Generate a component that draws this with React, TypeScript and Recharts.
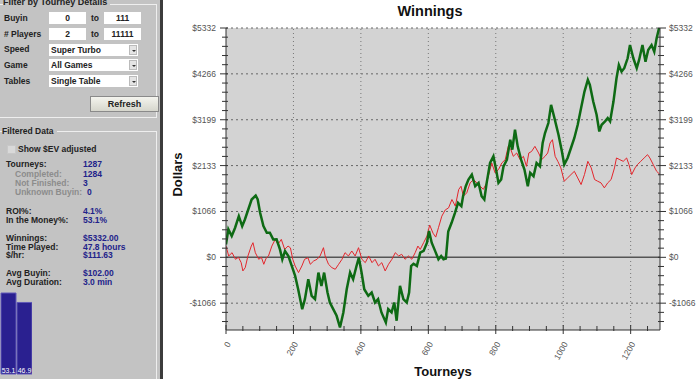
import { LineChart, Line, XAxis, YAxis, ReferenceLine, CartesianGrid, BarChart, Bar, LabelList } from 'recharts';

// cumulative winnings, real
const greenT = [0, 7, 17, 27, 38, 48, 56, 66, 76, 88, 94, 101, 111, 121, 130, 140, 150, 160, 167, 175, 185, 195, 205, 214, 226, 234, 244, 254, 264, 274, 283, 291, 301, 308, 318, 328, 338, 348, 358, 368, 377, 387, 394, 402, 410, 422, 432, 442, 451, 461, 474, 481, 491, 499, 506, 516, 526, 536, 543, 549, 556, 566, 576, 586, 596, 602, 610, 620, 630, 638, 645, 652, 659, 669, 679, 688, 698, 703, 711, 719, 729, 739, 749, 758, 766, 773, 783, 793, 801, 808, 816, 823, 833, 843, 849, 857, 865, 875, 885, 895, 902, 912, 921, 931, 939, 946, 956, 964, 974, 986, 996, 1003, 1013, 1023, 1033, 1043, 1053, 1063, 1073, 1079, 1089, 1099, 1107, 1114, 1124, 1132, 1139, 1149, 1158, 1165, 1173, 1181, 1191, 1198, 1208, 1218, 1225, 1235, 1244, 1252, 1262, 1270, 1277, 1284, 1287];
const greenV = [300, 650, 494, 688, 957, 725, 880, 1112, 1344, 1437, 1344, 1042, 725, 571, 571, 417, 420, 185, -46, 147, 31, -201, -433, -742, -1205, -973, -510, -896, -973, -355, -665, -355, -819, -1050, -1205, -1360, -1630, -1282, -742, -355, -510, -201, -8, -355, -742, -896, -819, -1050, -973, -1282, -1514, -1205, -1282, -1050, -1475, -665, -973, -1050, -819, -201, -150, -200, 108, 150, 340, 610, 340, 150, -46, 31, -46, -30, 600, 803, 1035, 1267, 1190, 1421, 1653, 1808, 1924, 1653, 1731, 1421, 1344, 1731, 2195, 2348, 2039, 1731, 1808, 2116, 2271, 2735, 2503, 2966, 2580, 2271, 2039, 1653, 1963, 1885, 2195, 2116, 2658, 2890, 3122, 3546, 3237, 2851, 2464, 2155, 2310, 2542, 2774, 3082, 3469, 3854, 4125, 4009, 3622, 3314, 2927, 3082, 3160, 3237, 3160, 3622, 4164, 4473, 4318, 4396, 4628, 4936, 4628, 4400, 4589, 4936, 4549, 4820, 4936, 4781, 5091, 5323, 5332];

// $EV adjusted
const redT = [0, 8, 18, 28, 37, 45, 50, 57, 65, 75, 80, 87, 97, 105, 112, 119, 126, 136, 146, 154, 164, 174, 184, 191, 198, 205, 215, 225, 233, 243, 250, 260, 270, 279, 289, 294, 304, 314, 324, 334, 344, 353, 363, 373, 383, 393, 403, 413, 423, 433, 442, 452, 462, 472, 482, 492, 502, 512, 521, 531, 541, 551, 561, 569, 576, 586, 596, 604, 614, 622, 630, 640, 650, 660, 670, 680, 690, 697, 704, 714, 724, 734, 744, 754, 763, 773, 783, 788, 798, 808, 818, 828, 837, 845, 852, 862, 872, 882, 891, 898, 906, 916, 927, 936, 946, 954, 961, 968, 976, 984, 993, 1003, 1013, 1023, 1033, 1043, 1053, 1063, 1073, 1083, 1093, 1102, 1112, 1122, 1132, 1142, 1152, 1158, 1168, 1178, 1188, 1195, 1203, 1213, 1220, 1230, 1240, 1250, 1257, 1267, 1277, 1287];
const redV = [262, 31, 108, -46, 0, -124, -317, -240, 31, 262, 340, 108, -46, 0, -162, -20, 31, 262, 417, 301, 417, 185, 262, 220, -46, -201, -355, -201, -46, -10, -162, -85, -46, 31, 224, 31, -162, -240, -278, -162, -46, 108, 31, 147, 31, 224, -46, -124, 31, -124, -46, -201, -124, -317, -162, -46, 108, 31, 70, -46, 31, -46, 108, 262, 185, 340, 494, 750, 560, 470, 688, 957, 1100, 1150, 1344, 1190, 1576, 1653, 1421, 1500, 1731, 1808, 1731, 1653, 1580, 1731, 2039, 2195, 1963, 2039, 2195, 2271, 2580, 2500, 2348, 2426, 2271, 2348, 2116, 2426, 2460, 2580, 2426, 2271, 2348, 2426, 2658, 2735, 2348, 2232, 2079, 1769, 1846, 1924, 2000, 1846, 1692, 1924, 2232, 2079, 1808, 1770, 1731, 1615, 1731, 1808, 2079, 2310, 2270, 2232, 2310, 2155, 1924, 2079, 2155, 2232, 2310, 2387, 2310, 2155, 2000, 1924];

const yMajor = [-1066, 0, 1066, 2133, 3199, 4266, 5332];
const xMajor = [0, 200, 400, 600, 800, 1000, 1200];
const xTicks = Array.from({ length: 26 }, (_, i) => i * 50);
const yDomain = [-1690, 5332];

// minor ticks: 5 steps between each major label
const yTicks: number[] = [];
for (let i = -2; i < 5; i++) {
  for (let k = 0; k < 5; k++) {
    const v = Math.round(1066.4 * i + 213.28 * k);
    if (v >= yDomain[0] && v <= yDomain[1]) yTicks.push(v);
  }
}
yTicks.push(5332);

const itmCats = ['ITM', 'OTM'];
const itmVals = [53.1, 46.9];

const greenData = greenT.map((t, i) => ({ t, v: greenV[i] }));
const redData = redT.map((t, i) => ({ t, v: redV[i] }));
const itmData = itmCats.map((c, i) => ({ c, v: itmVals[i] }));

const money = (v: number) => (v < 0 ? `-$${-v}` : `$${v}`);
const isMajorY = (v: number) => yMajor.some((m) => Math.abs(m - v) < 2);

const LeftTick = (p: any) => {
  const v = p.payload.value;
  const major = isMajorY(v);
  return (
    <g>
      <line x1={p.x - (major ? 6 : 4)} x2={p.x + 2} y1={p.y} y2={p.y} stroke="#333" />
      {major && (
        <text x={p.x - 10} y={p.y} dy={3} textAnchor="end" fontSize={8.5} fill="#555" fontFamily="Liberation Sans, Arial">
          {money(v)}
        </text>
      )}
    </g>
  );
};

const RightTick = (p: any) => {
  const v = p.payload.value;
  const major = isMajorY(v);
  return (
    <g>
      <line x1={p.x - 2} x2={p.x + (major ? 6 : 4)} y1={p.y} y2={p.y} stroke="#333" />
      {major && (
        <text x={p.x + 9} y={p.y} dy={3} textAnchor="start" fontSize={8.5} fill="#555" fontFamily="Liberation Sans, Arial">
          {money(v)}
        </text>
      )}
    </g>
  );
};

const BottomTick = (p: any) => {
  const v = p.payload.value;
  const major = v % 200 === 0;
  return (
    <g>
      <line x1={p.x} x2={p.x} y1={p.y - (major ? 5 : 4)} y2={p.y + (major ? 4 : 1)} stroke="#333" />
      {major && (
        <text transform={`translate(${p.x + 5},${p.y + 14}) rotate(-60)`} textAnchor="end" fontSize={8.5} fill="#555" fontFamily="Liberation Sans, Arial">
          {v}
        </text>
      )}
    </g>
  );
};

const TopTick = (p: any) => {
  const major = p.payload.value % 200 === 0;
  return <line x1={p.x} x2={p.x} y1={p.y - (major ? 2 : 0)} y2={p.y + 4} stroke="#333" />;
};

const lbl: React.CSSProperties = { position: 'absolute', fontFamily: 'Liberation Sans, Arial', fontWeight: 'bold', fontSize: 8.5, color: '#222', whiteSpace: 'nowrap', lineHeight: '8px' };

const Txt = ({ x, y, c, children }: any) => <div style={{ ...lbl, left: x, top: y - 4, color: c || '#222' }}>{children}</div>;

const Box = ({ x, y, w, children }: any) => (
  <div style={{ ...lbl, left: x, top: y, width: w, height: 12, background: '#fff', textAlign: 'center', lineHeight: '12px' }}>{children}</div>
);

const Combo = ({ y, children }: any) => (
  <div style={{ ...lbl, left: 49, top: y, width: 89, height: 12, background: '#fff', lineHeight: '12px' }}>
    <span style={{ paddingLeft: 2 }}>{children}</span>
    <div style={{ position: 'absolute', right: 1, top: 1, width: 8, height: 10, background: '#e4e4e4', border: '1px solid #bbb', boxSizing: 'border-box' }}>
      <div style={{ position: 'absolute', left: 1.5, top: 3.5, width: 0, height: 0, borderLeft: '2px solid transparent', borderRight: '2px solid transparent', borderTop: '2px solid #333' }} />
    </div>
  </div>
);

const navy = '#22228a';
const grey = '#8c8c8c';

const Panel = () => (
  <div style={{ position: 'absolute', left: 0, top: 0, width: 160, height: 379, background: '#c3c3c3', overflow: 'hidden' }}>
    <div style={{ position: 'absolute', left: 0, top: 4, width: 156, height: 112, borderTop: '1px solid #eee', borderRight: '1px solid #eee', borderBottom: '1px solid #eee' }} />
    <div style={{ ...lbl, left: 3, top: -2, background: '#c3c3c3', paddingRight: 3, fontSize: 9, lineHeight: '9px' }}>Filter by Tourney Details</div>
    <Txt x={4} y={18}>Buyin</Txt>
    <Box x={49} y={12} w={37}>0</Box>
    <Txt x={91} y={18}>to</Txt>
    <Box x={104} y={12} w={37}>111</Box>
    <Txt x={4} y={34}># Players</Txt>
    <Box x={49} y={28} w={37}>2</Box>
    <Txt x={91} y={34}>to</Txt>
    <Box x={104} y={28} w={37}>11111</Box>
    <Txt x={4} y={49}>Speed</Txt>
    <Combo y={44}>Super Turbo</Combo>
    <Txt x={4} y={65}>Game</Txt>
    <Combo y={59}>All Games</Combo>
    <Txt x={4} y={81}>Tables</Txt>
    <Combo y={75}>Single Table</Combo>
    <div style={{ ...lbl, left: 90, top: 96, width: 69, height: 16, boxSizing: 'border-box', border: '1px solid #8a8a8a', background: 'linear-gradient(#f4f4ee, #d6d6cc)', textAlign: 'center', lineHeight: '14px', fontSize: 9 }}>Refresh</div>

    <div style={{ position: 'absolute', left: 0, top: 131, width: 156, height: 260, borderTop: '1px solid #eee', borderRight: '1px solid #eee' }} />
    <div style={{ ...lbl, left: 2, top: 127, background: '#c3c3c3', paddingRight: 3 }}>Filtered Data</div>
    <div style={{ position: 'absolute', left: 7, top: 145, width: 7, height: 7, background: '#d9d9d9', border: '1px solid #c8c8c8' }} />
    <Txt x={18} y={149}>Show $EV adjusted</Txt>
    <Txt x={6} y={164}>Tourneys:</Txt><Txt x={83} y={164} c={navy}>1287</Txt>
    <Txt x={15} y={174} c={grey}>Completed:</Txt><Txt x={83} y={174} c={navy}>1284</Txt>
    <Txt x={15} y={183} c={grey}>Not Finished:</Txt><Txt x={83} y={183} c={navy}>3</Txt>
    <Txt x={15} y={192} c={grey}>Unknown Buyin:</Txt><Txt x={87} y={192} c={navy}>0</Txt>
    <Txt x={6} y={211}>ROI%:</Txt><Txt x={83} y={211} c={navy}>4.1%</Txt>
    <Txt x={6} y={220}>In the Money%:</Txt><Txt x={83} y={220} c={navy}>53.1%</Txt>
    <Txt x={6} y={238}>Winnings:</Txt><Txt x={83} y={238} c={navy}>$5332.00</Txt>
    <Txt x={6} y={246.5}>Time Played:</Txt><Txt x={83} y={246.5} c={navy}>47.8 hours</Txt>
    <Txt x={6} y={255}>$/hr:</Txt><Txt x={83} y={255} c={navy}>$111.63</Txt>
    <Txt x={6} y={273}>Avg Buyin:</Txt><Txt x={83} y={273} c={navy}>$102.00</Txt>
    <Txt x={6} y={282}>Avg Duration:</Txt><Txt x={83} y={282} c={navy}>3.0 min</Txt>

    <div style={{ position: 'absolute', left: 0, top: 290 }}>
      <BarChart width={32} height={89} data={itmData} margin={{ top: 3, right: 0, bottom: 5, left: 0 }} barCategoryGap={0}>
        <XAxis dataKey="c" hide />
        <YAxis hide domain={[0, 53.1]} />
        <Bar dataKey="v" barSize={15} fill="#2a2090" stroke="#6058b8" isAnimationActive={false}>
          <LabelList dataKey="v" position="insideBottom" offset={1} fill="#fff" fontSize={7} fontFamily="Liberation Sans, Arial" />
        </Bar>
      </BarChart>
    </div>
  </div>
);

export default function App() {
  return (
    <div style={{ position: 'fixed', left: 0, top: 0, width: 700, height: 379, background: '#fff', overflow: 'hidden' }}>
      <Panel />
      <div style={{ position: 'absolute', left: 160, top: 0, width: 3, height: 379, background: '#3c3c3c' }} />
      <div style={{ position: 'absolute', left: 163, top: 0 }}>
        <LineChart width={537} height={379} margin={{ top: 28, right: 0, bottom: 0, left: 0 }}>
          <CartesianGrid fill="#d3d3d3" stroke="none" horizontal={false} vertical={false} />
          <XAxis xAxisId="b" dataKey="t" type="number" domain={[0, 1287]} ticks={xTicks} interval={0} height={49} tickSize={0} tickMargin={0} tickLine={false} axisLine={{ stroke: '#333' }} tick={<BottomTick />} allowDataOverflow />
          <XAxis xAxisId="top" orientation="top" type="number" domain={[0, 1287]} ticks={xTicks} interval={0} height={0} tickSize={0} tickMargin={0} tickLine={false} axisLine={{ stroke: '#333' }} tick={<TopTick />} allowDataOverflow />
          <YAxis yAxisId="l" type="number" domain={yDomain} ticks={yTicks} interval={0} width={63} tickSize={0} tickMargin={0} tickLine={false} axisLine={{ stroke: '#333' }} tick={<LeftTick />} allowDataOverflow />
          <YAxis yAxisId="r" orientation="right" type="number" domain={yDomain} ticks={yTicks} interval={0} width={40} tickSize={0} tickMargin={0} tickLine={false} axisLine={{ stroke: '#333' }} tick={<RightTick />} allowDataOverflow />
          {yMajor.filter((v) => v !== 0).map((v) => (
            <ReferenceLine key={`y${v}`} xAxisId="b" yAxisId="l" y={v} stroke="#666" strokeDasharray="2 3" />
          ))}
          {xMajor.filter((v) => v !== 0).map((v) => (
            <ReferenceLine key={`x${v}`} xAxisId="b" yAxisId="l" x={v} stroke="#777" strokeDasharray="1 3" />
          ))}
          <ReferenceLine xAxisId="b" yAxisId="l" y={0} stroke="#555" strokeWidth={1.5} />
          <Line xAxisId="b" yAxisId="l" data={redData} dataKey="v" stroke="#e3262c" strokeWidth={1} dot={false} isAnimationActive={false} />
          <Line xAxisId="b" yAxisId="l" data={greenData} dataKey="v" stroke="#0e6a14" strokeWidth={2.5} dot={false} isAnimationActive={false} />
        </LineChart>
      </div>
      <div style={{ position: 'absolute', left: 330, top: 3, width: 200, textAlign: 'center', fontFamily: 'Liberation Sans, Arial', fontWeight: 'bold', fontSize: 14.5, color: '#111' }}>Winnings</div>
      <div style={{ position: 'absolute', left: 343, top: 364, width: 200, textAlign: 'center', fontFamily: 'Liberation Sans, Arial', fontWeight: 'bold', fontSize: 13, color: '#111' }}>Tourneys</div>
      <div style={{ position: 'absolute', left: 177, top: 175, width: 0, height: 0 }}>
        <div style={{ position: 'absolute', left: -50, top: -8, width: 100, textAlign: 'center', transform: 'rotate(-90deg)', fontFamily: 'Liberation Sans, Arial', fontWeight: 'bold', fontSize: 13, color: '#111' }}>Dollars</div>
      </div>
    </div>
  );
}
